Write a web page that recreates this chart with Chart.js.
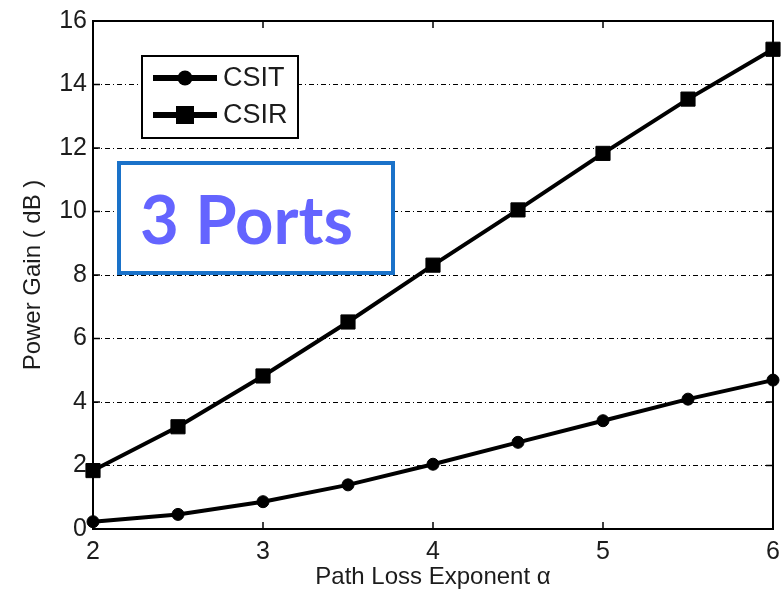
<!DOCTYPE html>
<html>
<head>
<meta charset="utf-8">
<script src="https://cdn.jsdelivr.net/npm/chart.js@4/dist/chart.umd.min.js"></script>
<style>
  html, body { margin: 0; padding: 0; background: #fff; }
  #wrap { position: relative; width: 784px; height: 592px; }
  #tag {
    position: absolute; left: 117px; top: 161px;
    width: 251px; height: 106px; padding-left: 19px;
    border: 4px solid #1a72c9; background: #fff;
    color: #6464ff; font: 700 67px "Lato", sans-serif;
    display: flex; align-items: center; line-height: 1;
  }
</style>
</head>
<body>
<div id="wrap">
  <canvas id="c" width="784" height="592"></canvas>
  <div id="tag">3 Ports</div>
</div>
<script>
// Path loss exponent values on the x axis
const alpha = [2, 2.5, 3, 3.5, 4, 4.5, 5, 5.5, 6];
// Power gain (dB) for each scheme
const csit = [0.23, 0.46, 0.86, 1.39, 2.04, 2.73, 3.41, 4.09, 4.69];
const csir = [1.84, 3.22, 4.82, 6.52, 8.31, 10.05, 11.83, 13.54, 15.11];
const seriesNames = ['CSIT', 'CSIR'];
const xTicks = [2, 3, 4, 5, 6];
const yTicks = [0, 2, 4, 6, 8, 10, 12, 14, 16];

const FONT = '"Liberation Sans", Arial, sans-serif';
const INK = '#1c1c1c';

function pts(ys) { return alpha.map((a, i) => ({ x: a, y: ys[i] })); }

// Box around the plot with inward tick marks on every side
const framePlugin = {
  id: 'frame',
  beforeDatasetsDraw(chart) {
    const { ctx, chartArea: a, scales } = chart;
    ctx.save();
    ctx.strokeStyle = '#000';
    ctx.lineWidth = 2;
    ctx.setLineDash([]);
    ctx.strokeRect(a.left, a.top, a.right - a.left, a.bottom - a.top);
    const t = 7;
    ctx.lineWidth = 1.5;
    ctx.beginPath();
    xTicks.forEach(v => {
      const x = scales.x.getPixelForValue(v);
      ctx.moveTo(x, a.bottom); ctx.lineTo(x, a.bottom - t);
      ctx.moveTo(x, a.top); ctx.lineTo(x, a.top + t);
    });
    yTicks.forEach(v => {
      const y = scales.y.getPixelForValue(v);
      ctx.moveTo(a.left, y); ctx.lineTo(a.left + t, y);
      ctx.moveTo(a.right, y); ctx.lineTo(a.right - t, y);
    });
    ctx.stroke();
    ctx.restore();
  }
};

// Boxed legend in the upper-left corner of the plot
const boxLegendPlugin = {
  id: 'boxLegend',
  afterDatasetsDraw(chart) {
    const { ctx } = chart;
    const bx = 142, by = 56, bw = 156, bh = 82;
    ctx.save();
    ctx.fillStyle = '#fff';
    ctx.fillRect(bx, by, bw, bh);
    ctx.strokeStyle = '#000';
    ctx.lineWidth = 2;
    ctx.strokeRect(bx, by, bw, bh);
    chart.data.datasets.forEach((ds, i) => {
      const y = by + 22 + i * 37;
      ctx.strokeStyle = '#000';
      ctx.lineWidth = 6;
      ctx.beginPath();
      ctx.moveTo(bx + 11, y); ctx.lineTo(bx + 75, y);
      ctx.stroke();
      ctx.fillStyle = '#000';
      if (ds.pointStyle === 'circle') {
        ctx.beginPath(); ctx.arc(bx + 43, y, 7.5, 0, Math.PI * 2); ctx.fill();
      } else {
        ctx.fillRect(bx + 43 - 9, y - 9, 18, 18);
      }
      ctx.fillStyle = INK;
      ctx.font = '27px ' + FONT;
      ctx.textBaseline = 'middle';
      ctx.fillText(ds.label, bx + 81, y + 1);
    });
    ctx.restore();
  }
};

new Chart(document.getElementById('c'), {
  type: 'line',
  data: {
    datasets: [
      {
        label: seriesNames[0], data: pts(csit),
        borderColor: '#000', backgroundColor: '#000', borderWidth: 4,
        pointStyle: 'circle', pointRadius: 6, pointBorderWidth: 1,
        pointBackgroundColor: '#000', pointBorderColor: '#000',
        tension: 0, clip: false
      },
      {
        label: seriesNames[1], data: pts(csir),
        borderColor: '#000', backgroundColor: '#000', borderWidth: 4,
        pointStyle: 'rect', pointRadius: 10, pointBorderWidth: 1,
        pointBackgroundColor: '#000', pointBorderColor: '#000',
        tension: 0, clip: false
      }
    ]
  },
  options: {
    responsive: false,
    animation: false,
    layout: { padding: { top: 21, right: 5, left: 0, bottom: 0 } },
    plugins: { legend: { display: false }, tooltip: { enabled: false } },
    scales: {
      x: {
        type: 'linear', min: 2, max: 6,
        afterBuildTicks(s) { s.ticks = xTicks.map(v => ({ value: v })); },
        afterFit(s) { s.height = 63; s.paddingRight = 5; s.paddingLeft = 0; },
        ticks: { color: INK, font: { family: FONT, size: 25 }, padding: 8, maxRotation: 0 },
        grid: { display: false, drawTicks: false },
        border: { display: false },
        title: {
          display: true, text: 'Path Loss Exponent α', color: INK,
          font: { family: FONT, size: 24 }, padding: { top: 0, bottom: 0 }
        }
      },
      y: {
        type: 'linear', min: 0, max: 16,
        afterBuildTicks(s) { s.ticks = yTicks.map(v => ({ value: v })); },
        afterFit(s) { s.width = 93; },
        ticks: { color: INK, font: { family: FONT, size: 25 }, padding: 6 },
        grid: { color: '#000', lineWidth: 1, drawTicks: false },
        border: { display: false, dash: [5, 3, 1, 3] },
        title: {
          display: true, text: 'Power Gain ( dB )', color: INK,
          font: { family: FONT, size: 24 }, padding: { top: 19, bottom: 0 }
        }
      }
    }
  },
  plugins: [framePlugin, boxLegendPlugin]
});
</script>
</body>
</html>
